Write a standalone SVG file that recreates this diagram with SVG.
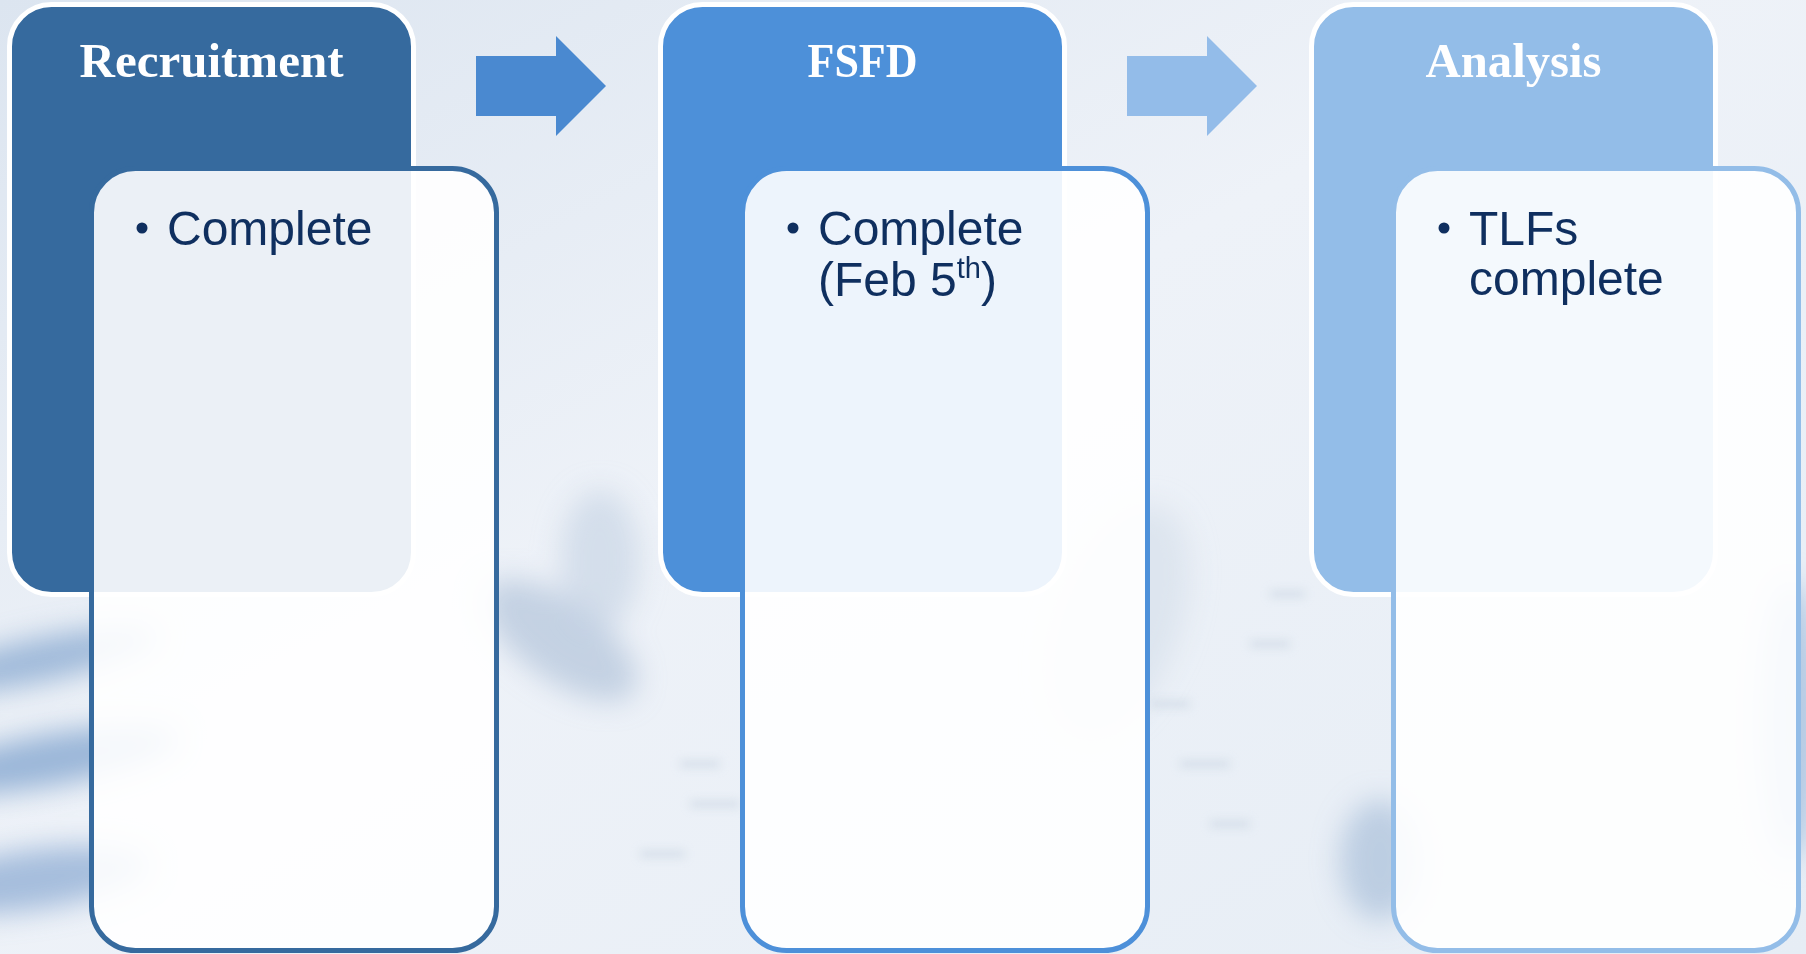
<svg xmlns="http://www.w3.org/2000/svg" width="1806" height="954" viewBox="0 0 1806 954">
  <defs>
    <linearGradient id="bg" x1="0" y1="0" x2="1" y2="1">
      <stop offset="0" stop-color="#DCE5F0"/>
      <stop offset="0.45" stop-color="#EEF2F8"/>
      <stop offset="1" stop-color="#E6EDF5"/>
    </linearGradient>
    <filter id="blur" x="-50%" y="-50%" width="200%" height="200%">
      <feGaussianBlur stdDeviation="14"/>
    </filter>
    <filter id="blurS" x="-50%" y="-50%" width="200%" height="200%">
      <feGaussianBlur stdDeviation="5"/>
    </filter>
    <style>
      .hdr { stroke: #FFFFFF; stroke-width: 5; }
      .body { fill: #FFFFFF; fill-opacity: 0.9; stroke-width: 5; }
      .title { font-family: "Liberation Serif", "DejaVu Serif", serif; font-weight: bold; font-size: 48px; fill: #FFFFFF; text-anchor: middle; }
      .item { font-family: "Liberation Sans", Arial, sans-serif; font-size: 48px; fill: #0F2F5F; }
      .dot { fill: #0F2F5F; }
      .c1 { fill: #366A9E; }
      .c2 { fill: #4D90D9; }
      .c3 { fill: #93BDE8; }
      .s1 { stroke: #366A9E; }
      .s2 { stroke: #4D90D9; }
      .s3 { stroke: #93BDE8; }
    </style>
  </defs>

  <!-- background -->
  <rect x="0" y="0" width="1806" height="954" fill="url(#bg)"/>
  <g id="background-photo" filter="url(#blur)">
    <ellipse cx="40" cy="660" rx="120" ry="22" fill="#7FA2CD" opacity="0.7" transform="rotate(-12 40 660)"/>
    <ellipse cx="50" cy="760" rx="130" ry="26" fill="#7FA2CD" opacity="0.75" transform="rotate(-10 50 760)"/>
    <ellipse cx="30" cy="880" rx="120" ry="30" fill="#86A7D0" opacity="0.7" transform="rotate(-8 30 880)"/>
    <ellipse cx="560" cy="640" rx="90" ry="40" fill="#A9BDD6" opacity="0.6" transform="rotate(35 560 640)"/>
    <ellipse cx="600" cy="560" rx="40" ry="70" fill="#C3D1E3" opacity="0.6"/>
    <ellipse cx="1790" cy="720" rx="30" ry="140" fill="#9DB8DA" opacity="0.7"/>
    <ellipse cx="1120" cy="620" rx="60" ry="120" fill="#D3DDEA" opacity="0.6" transform="rotate(20 1120 620)"/>
    <ellipse cx="1380" cy="860" rx="40" ry="60" fill="#9FB7D6" opacity="0.6"/>
  </g>
  <g id="background-marks" filter="url(#blurS)" fill="#C5D1E0" opacity="0.5">
    <rect x="680" y="760" width="40" height="8"/>
    <rect x="690" y="800" width="50" height="8"/>
    <rect x="640" y="850" width="45" height="8"/>
    <rect x="1150" y="700" width="40" height="8"/>
    <rect x="1180" y="760" width="50" height="8"/>
    <rect x="1210" y="820" width="40" height="8"/>
    <rect x="1250" y="640" width="40" height="8"/>
    <rect x="1270" y="590" width="35" height="8"/>
  </g>

  <!-- connectors -->
  <g id="connectors">
    <polygon id="arrow-1" points="476,56 556,56 556,36 606,86 556,136 556,116 476,116" fill="#4A89D0"/>
    <polygon id="arrow-2" points="1127,56 1207,56 1207,36 1257,86 1207,136 1207,116 1127,116" fill="#93BCE9"/>
  </g>

  <!-- stage 1 -->
  <g id="node-recruitment">
    <rect class="hdr c1" x="9.5" y="4.5" width="404" height="590" rx="42"/>
    <text class="title" x="211.5" y="77" textLength="264" lengthAdjust="spacingAndGlyphs">Recruitment</text>
    <rect class="body s1" x="91.5" y="168.5" width="405" height="782" rx="44"/>
    <circle class="dot" cx="142" cy="228" r="5.5"/>
    <text class="item" x="167" y="245">Complete</text>
  </g>

  <!-- stage 2 -->
  <g id="node-fsfd">
    <rect class="hdr c2" x="660.5" y="4.5" width="404" height="590" rx="42"/>
    <text class="title" x="862.5" y="77" textLength="110" lengthAdjust="spacingAndGlyphs">FSFD</text>
    <rect class="body s2" x="742.5" y="168.5" width="405" height="782" rx="44"/>
    <circle class="dot" cx="793" cy="228" r="5.5"/>
    <text class="item" x="818" y="245">Complete</text>
    <text class="item" x="818" y="296">(Feb 5<tspan font-size="29" dy="-18">th</tspan><tspan dy="18">)</tspan></text>
  </g>

  <!-- stage 3 -->
  <g id="node-analysis">
    <rect class="hdr c3" x="1311.5" y="4.5" width="404" height="590" rx="42"/>
    <text class="title" x="1513.5" y="77" textLength="176" lengthAdjust="spacingAndGlyphs">Analysis</text>
    <rect class="body s3" x="1393.5" y="168.5" width="405" height="782" rx="44"/>
    <circle class="dot" cx="1444" cy="228" r="5.5"/>
    <text class="item" x="1469" y="245">TLFs</text>
    <text class="item" x="1469" y="295">complete</text>
  </g>
</svg>
